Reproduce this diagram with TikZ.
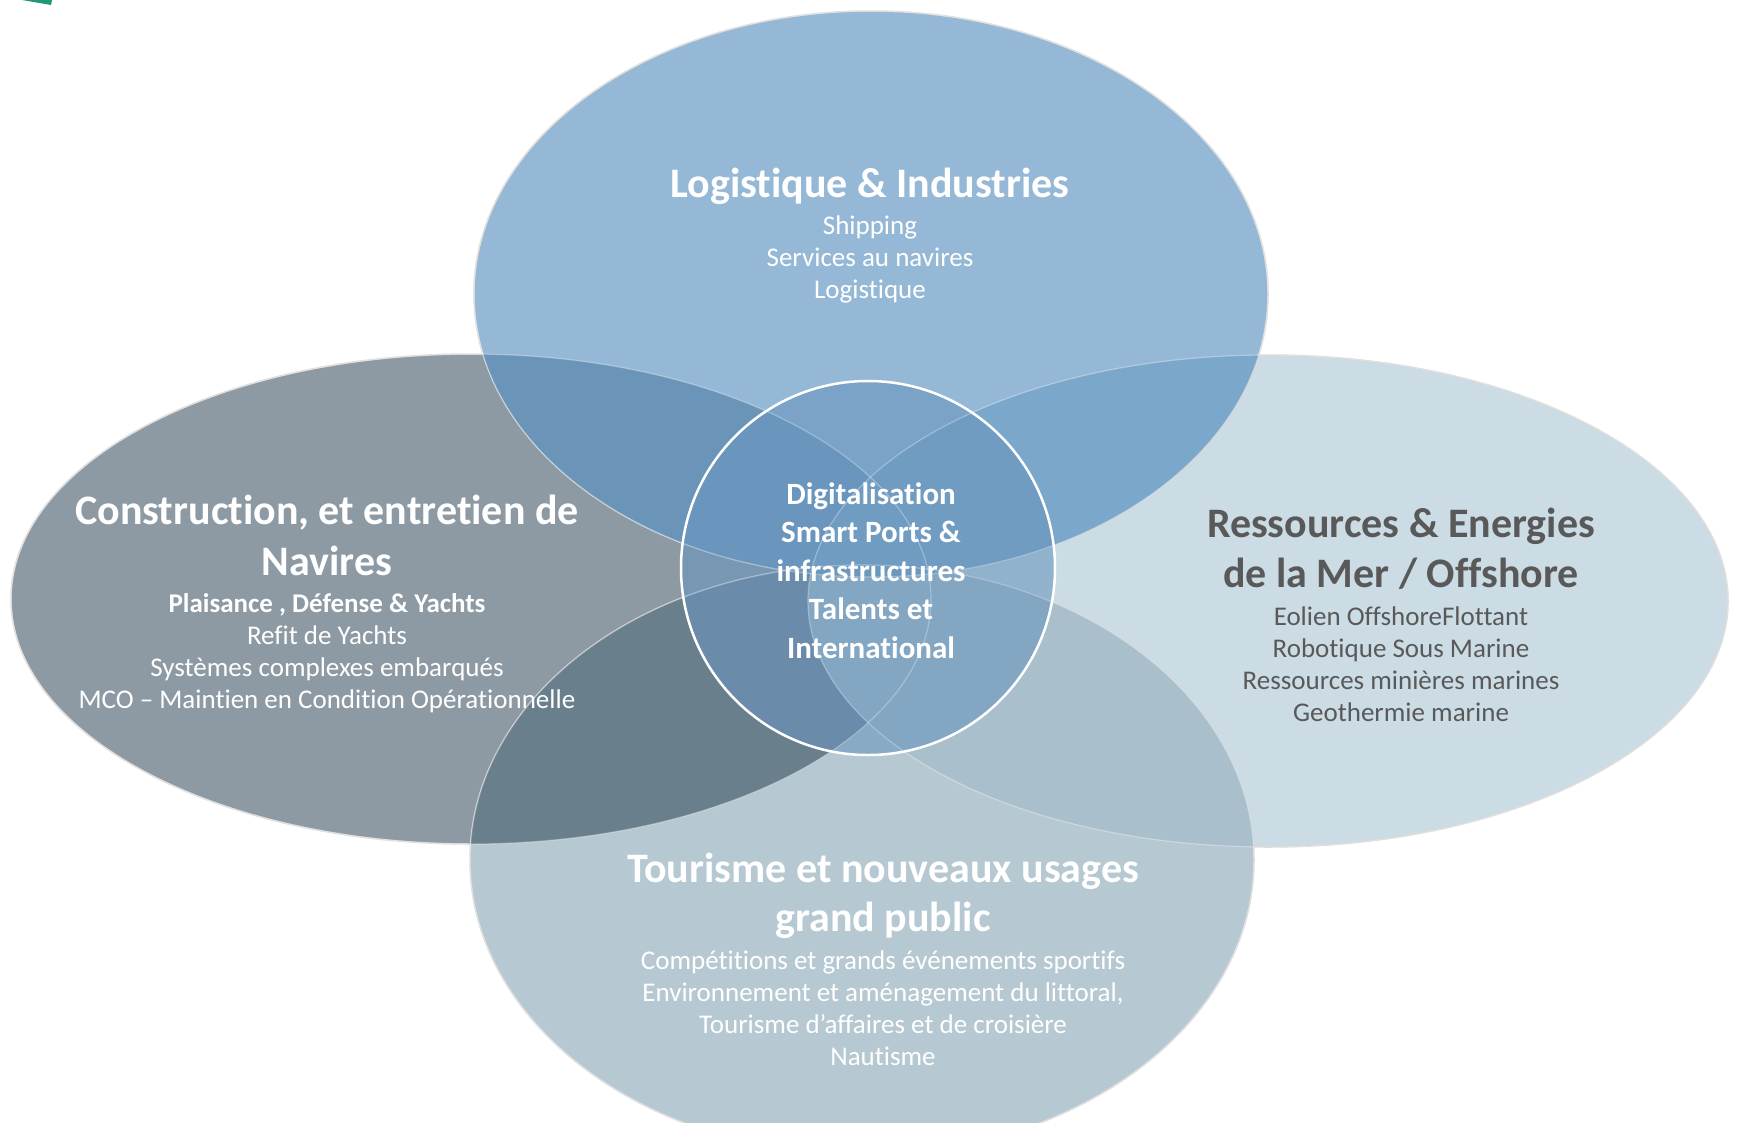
\documentclass[tikz,border=0pt]{standalone}
\usepackage{fontspec}
\setmainfont{Carlito}[Ligatures = {CommonOff}]
\usetikzlibrary{positioning}

\definecolor{logblue}{HTML}{94B8D5}
\definecolor{navgray}{HTML}{8D9AA3}
\definecolor{resblue}{HTML}{CCDCE4}
\definecolor{tourblue}{HTML}{B6C8D1}
\definecolor{lognav}{HTML}{6A95B9}
\definecolor{logres}{HTML}{7BA7CA}
\definecolor{tournav}{HTML}{6A7F8C}
\definecolor{tourres}{HTML}{A9BFCC}
\definecolor{navres}{HTML}{7E97A8}
\definecolor{logtour}{HTML}{6F9CC0}
\definecolor{hubtint}{HTML}{6A96BE}
\definecolor{textgray}{HTML}{595959}
\definecolor{logoteal}{HTML}{1E9A78}

\begin{document}
\begin{tikzpicture}[
      x = 1pt, y = -1pt,
      logsize/.style = { x radius = 397, y radius = 283 },
      navsize/.style = { x radius = 460, y radius = 245 },
      ressize/.style = { x radius = 460, y radius = 246 },
      toursize/.style = { x radius = 392, y radius = 295 },
      rim/.style = { draw = black!18, line width = 1.5pt },
      glow/.style = { draw = white, draw opacity = 0.35, line width = 1.2pt },
      title/.style = { font = \bfseries\fontsize{42}{50}\selectfont, inner sep = 0pt, anchor = base },
      item/.style = { font = \fontsize{27}{32}\selectfont, inner sep = 0pt, anchor = base },
      hub/.style = { font = \bfseries\fontsize{31}{38}\selectfont, inner sep = 0pt, anchor = base },
    ]
    \useasboundingbox (0,0) rectangle (1737,1122);

    \coordinate (log) at (871,294);
    \coordinate (nav) at (471,599);
    \coordinate (res) at (1268,601);
    \coordinate (tour) at (862,860);
    \coordinate (hub) at (868,568);

    \fill[logoteal] (22,0) -- (52,0) -- (51,5) -- cycle;

    % zones
    \foreach \z/\c in {nav/navgray, res/resblue, tour/tourblue, log/logblue} {
      \fill[\c, rim] (\z) ellipse [\z size];
    }

    % overlaps
    \foreach \a/\b/\c in {nav/res/navres, nav/tour/tournav, res/tour/tourres, nav/log/lognav, res/log/logres, tour/log/logtour} {
      \begin{scope}
        \clip (\a) ellipse [\a size];
        \fill[\c] (\b) ellipse [\b size];
      \end{scope}
    }
    \foreach \z in {nav, res, tour, log} {
      \draw[glow] (\z) ellipse [\z size];
    }

    \fill[hubtint, fill opacity = 0.6] (hub) circle [radius = 187];
    \foreach \z in {nav, res, tour, log} {
      \begin{scope}
        \clip (hub) circle [radius = 187];
        \draw[glow, draw opacity = 0.2] (\z) ellipse [\z size];
      \end{scope}
    }
    \draw[white, line width = 2.5pt] (hub) circle [radius = 187];

    % Logistique
    \node[title, white] (logtitle) at (870,197) {Logistique \& Industries};
    \foreach \t [count=\i] in {Shipping, Services au navires, Logistique} {
      \node[item, white] (logitem\i) at (870,{234+32*(\i-1)}) {\t};
    }

    % Construction
    \foreach \t [count=\i] in {{Construction, et entretien de}, Navires} {
      \node[title, white] (navtitle\i) at (327,{524+51*(\i-1)}) {\t};
    }
    \node[item, white, font = \bfseries\fontsize{27}{32}\selectfont] (navsub) at (327,612) {Plaisance , Défense \& Yachts};
    \foreach \t [count=\i] in {Refit de Yachts, Systèmes complexes embarqués, MCO – Maintien en Condition Opérationnelle} {
      \node[item, white] (navitem\i) at (327,{644+32*(\i-1)}) {\t};
    }

    % Ressources
    \foreach \t [count=\i] in {Ressources \& Energies, de la Mer / Offshore} {
      \node[title, textgray] (restitle\i) at (1401,{537+50*(\i-1)}) {\t};
    }
    \foreach \t [count=\i] in {Eolien OffshoreFlottant, Robotique Sous Marine, Ressources minières marines, Geothermie marine} {
      \node[item, textgray] (resitem\i) at (1401,{625+32*(\i-1)}) {\t};
    }

    % Tourisme
    \foreach \t [count=\i] in {Tourisme et nouveaux usages, grand public} {
      \node[title, white] (tourtitle\i) at (883,{882+49*(\i-1)}) {\t};
    }
    \foreach \t [count=\i] in {Compétitions et grands événements sportifs, {Environnement et aménagement du littoral,}, Tourisme d’affaires et de croisière, Nautisme} {
      \node[item, white] (touritem\i) at (883,{969+32*(\i-1)}) {\t};
    }

    % centre
    \foreach \t [count=\i] in {Digitalisation, Smart Ports \&, infrastructures, Talents et, International} {
      \node[hub, white] (hubline\i) at (871,{504+38.5*(\i-1)}) {\t};
    }
  \end{tikzpicture}
\end{document}
